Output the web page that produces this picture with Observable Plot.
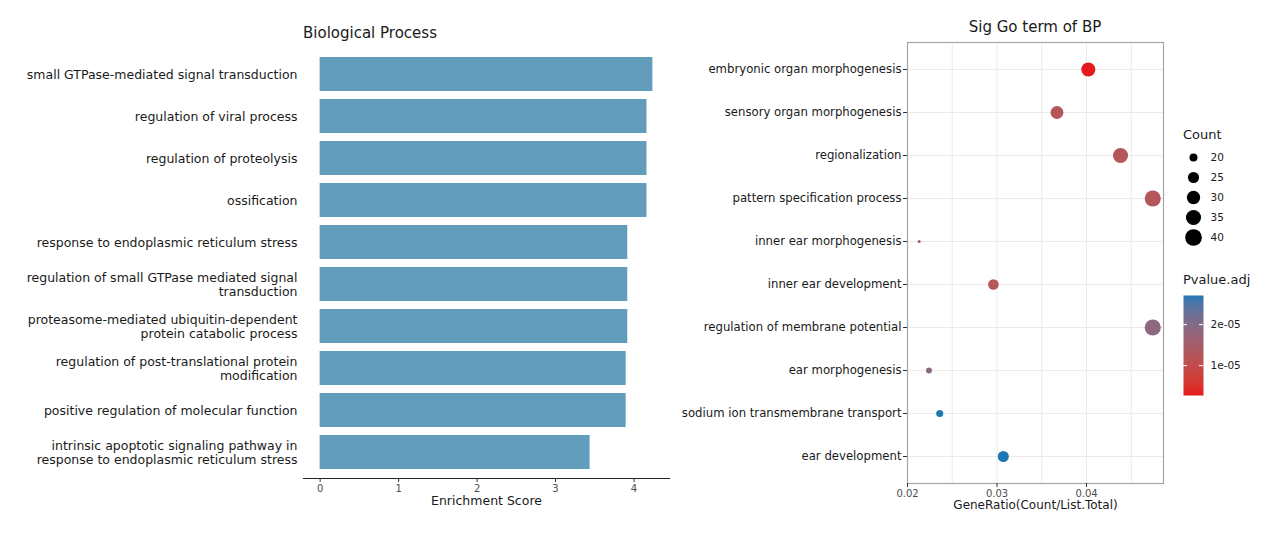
<!DOCTYPE html>
<html>
<head>
<meta charset="utf-8">
<script src="https://cdn.jsdelivr.net/npm/d3@7"></script>
<script src="https://cdn.jsdelivr.net/npm/@observablehq/plot@0.6"></script>
<style>
  html, body { margin: 0; padding: 0; background: #fff; }
  #root { position: relative; width: 1282px; height: 534px; font-family: "DejaVu Sans", sans-serif; color: #1a1a1a; overflow: hidden; }
  .ttl { position: absolute; line-height: 1; white-space: nowrap; }
</style>
</head>
<body>
<div id="root"></div>
<script>
// ---------- Left panel: Biological Process enrichment ----------
const bpTerms = [
  "small GTPase-mediated signal transduction",
  "regulation of viral process",
  "regulation of proteolysis",
  "ossification",
  "response to endoplasmic reticulum stress",
  "regulation of small GTPase mediated signal transduction",
  "proteasome-mediated ubiquitin-dependent protein catabolic process",
  "regulation of post-translational protein modification",
  "positive regulation of molecular function",
  "intrinsic apoptotic signaling pathway in response to endoplasmic reticulum stress"
];
const bpLabels = [
  "small GTPase-mediated signal transduction",
  "regulation of viral process",
  "regulation of proteolysis",
  "ossification",
  "response to endoplasmic reticulum stress",
  "regulation of small GTPase mediated signal\ntransduction",
  "proteasome-mediated ubiquitin-dependent\nprotein catabolic process",
  "regulation of post-translational protein\nmodification",
  "positive regulation of molecular function",
  "intrinsic apoptotic signaling pathway in\nresponse to endoplasmic reticulum stress"
];
const bpScores = [4.24, 4.165, 4.165, 4.165, 3.92, 3.92, 3.92, 3.90, 3.90, 3.44];
const bpTicks = [0, 1, 2, 3, 4];

// ---------- Right panel: Sig GO term of BP ----------
const goTerms = [
  "embryonic organ morphogenesis",
  "sensory organ morphogenesis",
  "regionalization",
  "pattern specification process",
  "inner ear morphogenesis",
  "inner ear development",
  "regulation of membrane potential",
  "ear morphogenesis",
  "sodium ion transmembrane transport",
  "ear development"
];
const geneRatio = [0.0402, 0.0367, 0.0438, 0.0474, 0.0213, 0.0296, 0.0474, 0.0224, 0.0236, 0.0307];
const counts    = [32, 29, 35, 38, 17, 24, 38, 18, 19, 25];
const padj      = [2.7e-6, 1.25e-5, 1.25e-5, 1.25e-5, 1.25e-5, 1.25e-5, 1.89e-5, 1.89e-5, 2.71e-5, 2.71e-5];
const ratioTicks = [0.02, 0.03, 0.04];
const ratioTickLabels = ["0.02", "0.03", "0.04"];
const ratioGrid = [0.025, 0.03, 0.035, 0.04, 0.045];
const sizeLegendCounts = [20, 25, 30, 35, 40];
const colorTicks = [1e-5, 2e-5];
const colorTickLabels = ["1e-05", "2e-05"];

const FONT = "DejaVu Sans";
const root = document.getElementById("root");

const bpData = bpTerms.map((t, i) => ({term: t, score: bpScores[i]}));
const goData = goTerms.map((t, i) => ({term: t, ratio: geneRatio[i], count: counts[i], padj: padj[i]}));

const minCount = d3.min(counts);
const maxCount = d3.max(counts);
const rOpts = {type: "sqrt", domain: [0, maxCount - minCount], range: [1.55, 8.05], clamp: false};
const colorOpts = {type: "linear", domain: d3.extent(padj), range: ["#E41A1C", "#1F78B4"], interpolate: "lab"};

function place(svg, x) {
  svg.style.position = "absolute"; svg.style.left = x + "px"; svg.style.top = "0px";
  root.appendChild(svg);
}

// Left chart
const left = Plot.plot({
  width: 680, height: 534,
  marginLeft: 303, marginRight: 11, marginTop: 47, marginBottom: 56,
  style: {fontFamily: FONT, background: "transparent", overflow: "visible"},
  x: {domain: [-0.212, 4.452]},
  y: {domain: bpTerms, paddingInner: 0.2, paddingOuter: 0.2},
  marks: [
    Plot.barX(bpData, {x: "score", y: "term", fill: "#629EBB"}),
    Plot.frame({anchor: "bottom", stroke: "#222", strokeWidth: 1.2}),
    Plot.axisX({ticks: bpTicks, tickSize: 4, tickPadding: 2, fontSize: 10, stroke: "#333", fill: "#4d4d4d", label: null, tickFormat: d => String(d)}),
    Plot.axisY({tickSize: 0, tickPadding: 6, fontSize: 12.5, fill: "#1a1a1a", label: null, lineHeight: 1.1,
      tickFormat: d => bpLabels[bpTerms.indexOf(d)]}),
    Plot.text(["Enrichment Score"], {text: d => d, frameAnchor: "bottom", lineAnchor: "middle", dy: 22, fontSize: 12.5, fill: "#1a1a1a"})
  ]
});
place(left, 0);

// Right chart
const right = Plot.plot({
  width: 515, height: 534,
  marginLeft: 247, marginRight: 12, marginTop: 42, marginBottom: 51,
  style: {fontFamily: FONT, background: "transparent", overflow: "visible"},
  x: {domain: [0.02, 0.0486]},
  y: {type: "point", domain: goTerms, padding: 0.6},
  r: rOpts,
  color: colorOpts,
  marks: [
    Plot.gridX({ticks: ratioGrid, stroke: "#ebebeb", strokeOpacity: 1, strokeWidth: 1}),
    Plot.gridY({stroke: "#ebebeb", strokeOpacity: 1, strokeWidth: 1}),
    Plot.dot(goData, {x: "ratio", y: "term", r: d => d.count - minCount, fill: "padj"}),
    Plot.frame({stroke: "#a6a6a6", strokeWidth: 1.2}),
    Plot.axisX({ticks: ratioTicks, tickSize: 4, tickPadding: 2, fontSize: 10, stroke: "#333", fill: "#4d4d4d", label: null,
      tickFormat: d => ratioTickLabels[ratioTicks.indexOf(d)]}),
    Plot.axisY({tickSize: 4, tickPadding: 2, fontSize: 11.7, stroke: "#333", fill: "#1a1a1a", label: null}),
    Plot.text(["GeneRatio(Count/List.Total)"], {text: d => d, frameAnchor: "bottom", lineAnchor: "middle", dy: 22, fontSize: 12, fill: "#1a1a1a"})
  ]
});
place(right, 660);

// Size legend
const sizeLegend = Plot.plot({
  width: 107, height: 534, margin: 0,
  style: {fontFamily: FONT, background: "transparent", overflow: "visible"},
  x: {domain: [0, 1], range: [18, 35], axis: null},
  y: {type: "point", domain: sizeLegendCounts, range: [157, 237], padding: 0, axis: null},
  r: rOpts,
  marks: [
    Plot.dot(sizeLegendCounts, {x: 0, y: d => d, r: d => d - minCount, fill: "black"}),
    Plot.text(sizeLegendCounts, {x: 1, y: d => d, text: d => String(d), textAnchor: "start", fontSize: 10.5, fill: "#1a1a1a"})
  ]
});
place(sizeLegend, 1175);

// Color legend
const [pmin, pmax] = d3.extent(padj);
const colorLegend = Plot.plot({
  width: 107, height: 534, margin: 0,
  style: {fontFamily: FONT, background: "transparent", overflow: "visible"},
  x: {domain: [0, 1], range: [8, 28], axis: null},
  y: {domain: [pmin, pmax], range: [395, 295], axis: null},
  color: colorOpts,
  marks: [
    Plot.raster({x1: 0, x2: 1, y1: pmin, y2: pmax, width: 1, height: 200, fill: (x, y) => y}),
    Plot.ruleY(colorTicks, {x1: 0, x2: 0.2, stroke: "white", strokeWidth: 1}),
    Plot.ruleY(colorTicks, {x1: 0.8, x2: 1, stroke: "white", strokeWidth: 1}),
    Plot.text(colorTicks, {x: 1, y: d => d, dx: 7, text: (d, i) => colorTickLabels[i], textAnchor: "start", fontSize: 10.5, fill: "#1a1a1a"})
  ]
});
place(colorLegend, 1175);

// Titles
function addText(txt, left, top, size, center) {
  const d = document.createElement("div");
  d.className = "ttl";
  d.textContent = txt;
  d.style.left = left + "px";
  d.style.top = top + "px";
  d.style.fontSize = size + "px";
  if (center) d.style.transform = "translateX(-50%)";
  root.appendChild(d);
}
addText("Biological Process", 303, 26, 15, false);
addText("Sig Go term of BP", 1035, 20, 15, true);
addText("Count", 1183, 128, 13, false);
addText("Pvalue.adj", 1183, 273, 13, false);
</script>
</body>
</html>
